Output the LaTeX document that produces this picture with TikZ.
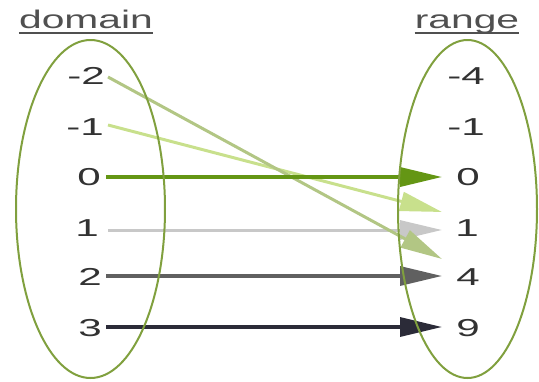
\documentclass[tikz,border=0pt]{standalone}
\usepackage{fontspec}
\setmainfont{Liberation Sans}
\usetikzlibrary{arrows.meta}
\definecolor{ellgreen}{RGB}{128,160,62}
\definecolor{txtgray}{RGB}{50,50,50}
\definecolor{lblgray}{RGB}{80,80,80}
\definecolor{cA}{RGB}{178,198,132}
\definecolor{cB}{RGB}{200,224,140}
\definecolor{cC}{RGB}{100,150,20}
\definecolor{cD}{RGB}{200,200,200}
\definecolor{cE}{RGB}{96,96,96}
\definecolor{cF}{RGB}{43,43,56}
\tikzset{
  num/.style={inner sep=0pt, text=txtgray, font=\fontsize{24.5}{26}\selectfont},
  lbl/.style={inner sep=0pt, anchor=base, text=lblgray, font=\fontsize{25.5}{27}\selectfont},
  setell/.style={draw=ellgreen, line width=2pt},
  maparrow/.style={line width=3pt, -{Triangle[length=42pt,width=19pt]}},
}
\newcommand{\wide}[1]{\scalebox{1.72}[1]{#1}}
\newcommand{\widel}[1]{\scalebox{1.6}[1]{#1}}
\begin{document}
\begin{tikzpicture}[x=1pt,y=-1pt]
\useasboundingbox (0,0) rectangle (539,381);
% labels
\node[lbl] (dom) at (86,28) {\widel{domain}};
\node[lbl] (rng) at (467,28) {\widel{range}};
\draw[lblgray, line width=1.5pt] ([yshift=-5pt]dom.base west) -- ([yshift=-5pt]dom.base east);
\draw[lblgray, line width=1.5pt] ([yshift=-5pt]rng.base west) -- ([yshift=-5pt]rng.base east);
% numbers
\node[num] (lm2) at (86,76) {\wide{-2}};
\node[num] (lm1) at (85,127) {\wide{-1}};
\node[num] (l0) at (89,177) {\wide{0}};
\node[num] (l1) at (87,228) {\wide{1}};
\node[num] (l2) at (90,277) {\wide{2}};
\node[num] (l3) at (90,328) {\wide{3}};
\node[num] (rm4) at (466,76) {\wide{-4}};
\node[num] (rm1) at (466,127) {\wide{-1}};
\node[num] (r0) at (468,177) {\wide{0}};
\node[num] (r1) at (467,228) {\wide{1}};
\node[num] (r4) at (468,277) {\wide{4}};
\node[num] (r9) at (468,328) {\wide{9}};
% arrow end points
\coordinate (sA) at (108,77);
\coordinate (eA) at (442,259);
\coordinate (sB) at (108,125);
\coordinate (eB) at (442,212);
\coordinate (sC) at (106,177);
\coordinate (eC) at (442,177);
\coordinate (sD) at (108,230);
\coordinate (eD) at (442,230);
\coordinate (sE) at (106,276);
\coordinate (eE) at (442,276);
\coordinate (sF) at (106,327);
\coordinate (eF) at (442,327);
% arrows
\draw[maparrow, cD] (sD) -- (eD);
\draw[maparrow, cB] (sB) -- (eB);
\draw[maparrow, cA] (sA) -- (eA);
\draw[maparrow, cC, line width=3.5pt] (sC) -- (eC);
\draw[maparrow, cE, line width=3.3pt] (sE) -- (eE);
\draw[maparrow, cF, line width=3.3pt] (sF) -- (eF);
% ellipses
\draw[setell] (90.5,209) ellipse [x radius=74.5, y radius=169];
\draw[setell] (467.5,209) ellipse [x radius=69.5, y radius=169];
\end{tikzpicture}
\end{document}
